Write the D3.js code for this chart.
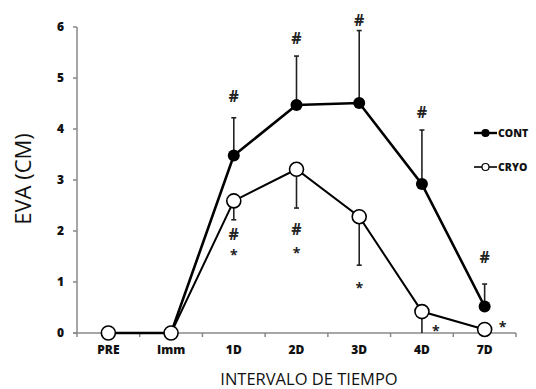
<!DOCTYPE html>
<html lang="en">
<head>
  <meta charset="utf-8">
  <title>EVA</title>
  <script src="https://d3js.org/d3.v7.min.js"></script>
  <style type="text/css">
    body { margin: 0; background: #fff; }
    text { font-family: "Open Sans", sans-serif; }
  </style>
</head>
<body>
  <script type="text/javascript">
    // data
    var categories = ["PRE", "Imm", "1D", "2D", "3D", "4D", "7D"];
    var contMean = [0, 0, 3.48, 4.47, 4.51, 2.92, 0.52];
    var contErr = [0, 0, 0.74, 0.96, 1.42, 1.06, 0.44];   // upward
    var cryoMean = [0, 0, 2.59, 3.21, 2.28, 0.42, 0.07];
    var cryoErr = [0, 0, 0.37, 0.76, 0.95, 0.42, 0];     // downward
    var yTicks = [0, 1, 2, 3, 4, 5, 6];

    // significance marks: category, level (in EVA units), shift
    var hashCont = [["1D", 4.65], ["2D", 5.78], ["3D", 6.14], ["4D", 4.33], ["7D", 1.49]];
    var hashCryo = [["1D", 1.94], ["2D", 2.04]];
    var starCryo = [["1D", 1.61], ["2D", 1.65], ["3D", 0.96], ["4D", 0.12, 14], ["7D", 0.2, 18]];

    var w = 536, h = 389;
    var margin = { top: 27, right: 20, bottom: 56, left: 77 };

    var svg = d3.select("body").append("svg")
      .attr("width", w)
      .attr("height", h);

    var x = d3.scaleBand()
      .domain(categories)
      .range([margin.left, 516]);

    var y = d3.scaleLinear()
      .domain([0, 6])
      .range([h - margin.bottom, margin.top]);

    function cx(d, i) { return x(categories[i]) + x.bandwidth() / 2; }

    // axes
    var axisColor = "#888";
    svg.append("line")
      .attr("x1", margin.left).attr("x2", margin.left)
      .attr("y1", y(6)).attr("y2", y(0) + 4)
      .attr("stroke", axisColor).attr("stroke-width", 1.5);
    svg.append("line")
      .attr("x1", margin.left - 4).attr("x2", 516)
      .attr("y1", y(0)).attr("y2", y(0))
      .attr("stroke", axisColor).attr("stroke-width", 1.5);

    // y ticks
    svg.selectAll(".yt").data(yTicks).enter().append("line")
      .attr("x1", margin.left - 4).attr("x2", margin.left)
      .attr("y1", function (d) { return y(d); })
      .attr("y2", function (d) { return y(d); })
      .attr("stroke", axisColor).attr("stroke-width", 1.5);
    svg.selectAll(".yl").data(yTicks).enter().append("text")
      .attr("x", 64)
      .attr("y", function (d) { return y(d) + 4; })
      .attr("text-anchor", "end")
      .attr("font-size", 12).attr("font-weight", 800)
      .attr("fill", "#111")
      .text(function (d) { return d; });

    // x ticks at band boundaries
    svg.selectAll(".xt").data(categories.slice(1)).enter().append("line")
      .attr("x1", function (d) { return x(d); })
      .attr("x2", function (d) { return x(d); })
      .attr("y1", y(0)).attr("y2", y(0) + 4)
      .attr("stroke", axisColor).attr("stroke-width", 1.5);
    svg.append("line")
      .attr("x1", 516).attr("x2", 516)
      .attr("y1", y(0)).attr("y2", y(0) + 4)
      .attr("stroke", axisColor).attr("stroke-width", 1.5);
    svg.selectAll(".xl").data(categories).enter().append("text")
      .attr("x", function (d) { return x(d) + x.bandwidth() / 2; })
      .attr("y", y(0) + 21)
      .attr("text-anchor", "middle")
      .attr("font-size", 12).attr("font-weight", 800)
      .attr("fill", "#111")
      .text(function (d) { return d; });

    // axis titles
    svg.append("text")
      .attr("transform", "translate(31," + 179 + ") rotate(-90)")
      .attr("text-anchor", "middle")
      .attr("font-size", 22)
      .attr("fill", "#111")
      .text("EVA (CM)");
    svg.append("text")
      .attr("x", 309).attr("y", 385)
      .attr("text-anchor", "middle")
      .attr("font-size", 16.5)
      .attr("fill", "#111")
      .text("INTERVALO DE TIEMPO");

    // error bars
    function errBars(mean, err, dir) {
      var g = svg.append("g");
      mean.forEach(function (m, i) {
        if (!err[i]) return;
        var xx = cx(m, i);
        var end = y(m + dir * err[i]);
        g.append("line")
          .attr("x1", xx).attr("x2", xx)
          .attr("y1", y(m)).attr("y2", end)
          .attr("stroke", "#222").attr("stroke-width", 1.6);
        if (dir < 0 && m - err[i] <= 0) return;
        g.append("line")
          .attr("x1", xx - 2.5).attr("x2", xx + 2.5)
          .attr("y1", end).attr("y2", end)
          .attr("stroke", "#222").attr("stroke-width", 1.6);
      });
    }
    errBars(contMean, contErr, 1);
    errBars(cryoMean, cryoErr, -1);

    var line = d3.line()
      .x(function (d, i) { return cx(d, i); })
      .y(function (d) { return y(d); });

    svg.append("path").datum(contMean)
      .attr("d", line).attr("fill", "none")
      .attr("stroke", "#000").attr("stroke-width", 2.6);
    svg.selectAll(".cont").data(contMean).enter().append("circle")
      .attr("cx", cx).attr("cy", function (d) { return y(d); })
      .attr("r", 6).attr("fill", "#000");

    svg.append("path").datum(cryoMean)
      .attr("d", line).attr("fill", "none")
      .attr("stroke", "#000").attr("stroke-width", 2);
    svg.selectAll(".cryo").data(cryoMean).enter().append("circle")
      .attr("cx", cx).attr("cy", function (d) { return y(d); })
      .attr("r", 7).attr("fill", "#fff")
      .attr("stroke", "#000").attr("stroke-width", 1.6);

    // significance marks, centred on their level
    function marks(list, sym, size, dy) {
      svg.selectAll(null).data(list).enter().append("text")
        .attr("x", function (d) { return x(d[0]) + x.bandwidth() / 2 + (d[2] || 0); })
        .attr("y", function (d) { return y(d[1]) + dy; })
        .attr("text-anchor", "middle")
        .attr("font-family", "DejaVu Sans")
        .attr("font-weight", "bold")
        .attr("font-size", size)
        .attr("fill", "#222")
        .text(sym);
    }
    marks(hashCont, "#", 16, 6);
    marks(hashCryo, "#", 16, 6);
    marks(starCryo, "*", 14, 9);

    // legend
    var legend = [
      { name: "CONT", fill: "#000", y: 133 },
      { name: "CRYO", fill: "#fff", y: 167 }
    ];
    legend.forEach(function (d) {
      svg.append("line")
        .attr("x1", 474).attr("x2", 497)
        .attr("y1", d.y).attr("y2", d.y)
        .attr("stroke", "#000").attr("stroke-width", d.fill === "#000" ? 2.4 : 1.6);
      svg.append("circle")
        .attr("cx", 485.5).attr("cy", d.y).attr("r", 3.5)
        .attr("fill", d.fill).attr("stroke", "#000").attr("stroke-width", 1.2);
      svg.append("text")
        .attr("x", 498).attr("y", d.y + 4)
        .attr("font-size", 10.5).attr("font-weight", 800)
        .attr("fill", "#111")
        .text(d.name);
    });
  </script>
</body>
</html>
